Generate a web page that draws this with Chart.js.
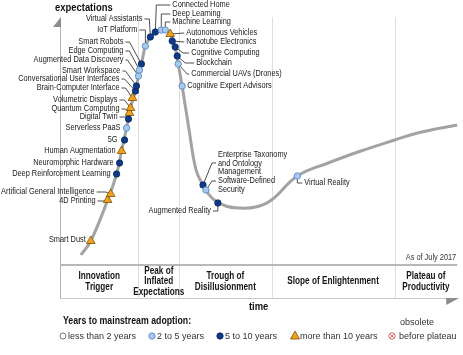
<!DOCTYPE html>
<html>
<head>
<meta charset="utf-8">
<script src="https://cdn.jsdelivr.net/npm/chart.js@4.4.1/dist/chart.umd.min.js"></script>
<style>
  html, body { margin: 0; padding: 0; background: #fff; }
  canvas { display: block; }
</style>
</head>
<body>
<canvas id="chart" width="463" height="355"></canvas>
<script>
const FONT = '"Liberation Sans", Arial, sans-serif';
const SQUEEZE = 0.82; // the original uses a narrow Arial

// hype curve (time 0-100, expectations 0-100)
const curveTime   = [5.25, 7.75, 12, 14.25, 15.5, 16.75, 17.75, 19, 19.75, 20.5, 21.5, 22.75, 24, 25.5, 26.5, 27.75, 29, 29.75, 30.75, 32.5, 34.25, 36, 38.25, 41.75, 45, 49.25, 53.25, 59.75, 67.5, 75.75, 84.25, 90, 100];
const curveExpect = [4, 9.6, 26, 36.4, 45.6, 54.8, 62.8, 69.6, 75.6, 80.4, 87.6, 91.2, 93.2, 94, 94, 92.4, 87.2, 80.4, 71.6, 54, 38, 32, 26.8, 23.6, 22.8, 23.2, 26, 35.6, 40.8, 45.6, 50, 52.8, 56];

// phases along the time axis
const phaseBounds = [0, 19.75, 30, 53.25, 84.25, 100];
const phaseNames = [
  ['Innovation', 'Trigger'],
  ['Peak of', 'Inflated', 'Expectations'],
  ['Trough of', 'Disillusionment'],
  ['Slope of Enlightenment'],
  ['Plateau of', 'Productivity']
];

// technologies
const techNames = [
  'Smart Dust', '4D Printing', 'Artificial General Intelligence', 'Deep Reinforcement Learning',
  'Neuromorphic Hardware', 'Human Augmentation', '5G', 'Serverless PaaS', 'Digital Twin',
  'Quantum Computing', 'Volumetric Displays', 'Brain-Computer Interface',
  'Conversational User Interfaces', 'Smart Workspace', 'Augmented Data Discovery',
  'Edge Computing', 'Smart Robots', 'IoT Platform', 'Virtual Assistants', 'Connected Home',
  'Deep Learning', 'Machine Learning', 'Autonomous Vehicles', 'Nanotube Electronics',
  'Cognitive Computing', 'Blockchain', 'Commercial UAVs (Drones)', 'Cognitive Expert Advisors',
  'Enterprise Taxonomy\nand Ontology\nManagement', 'Software-Defined\nSecurity',
  'Augmented Reality', 'Virtual Reality'
];
const techTime = [7.75, 12, 12.75, 14.25, 15, 15.5, 16.25, 16.75, 17.25, 17.5, 17.75, 18.25, 19, 19.25, 19.75, 20, 20.5, 21.5, 22.75, 24, 25.5, 26.5, 27.75, 28.25, 29, 29.5, 29.75, 30.75, 36, 36.75, 39.75, 59.75];
const techExpect = [9.6, 26, 28.4, 36.4, 40.8, 45.6, 50, 54.8, 58.4, 60.8, 62.8, 66.8, 69.6, 71.6, 75.6, 78, 80.4, 87.6, 91.2, 93.2, 94, 94, 92.4, 89.6, 87.2, 83.6, 80.4, 71.6, 32, 30, 24.8, 35.6];
const techYears = ['10+', '10+', '10+', '5-10', '5-10', '10+', '5-10', '2-5', '5-10', '10+', '10+', '10+',
  '5-10', '5-10', '2-5', '2-5', '5-10', '2-5', '5-10', '5-10', '2-5', '2-5', '10+', '5-10',
  '5-10', '5-10', '2-5', '2-5', '5-10', '2-5', '5-10', '2-5'];

const yearClasses = ['2-5', '5-10', '10+'];
const legendLabels = ['less than 2 years', '2 to 5 years', '5 to 10 years', 'more than 10 years'];

// marker look per class
const markerStyle = {
  '2-5':  { pointStyle: 'circle',   radius: 3.2, fill: '#a8c9ec', border: '#4f83c4' },
  '5-10': { pointStyle: 'circle',   radius: 3.2, fill: '#0e3a86', border: '#082a63' },
  '10+':  { pointStyle: 'triangle', radius: 5,   fill: '#f2a11e', border: '#7a5200' }
};

// label placement, pixels from the marker: [dx, dy, connector path]; dx < 0 -> text to the left
const labelLayout = [
  [-5, -1, []],
  [-12, 1, [[-3, 1], [-10, 1]]],
  [-16, -2, [[-5, -2], [-14, -2]]],
  [-6, 0, []],
  [-6, 0, []],
  [-6, 0, []],
  [-7, 0, []],
  [-6, 0, []],
  [-11, -2, [[-3, -2], [-9, -2]]],
  [-10, -4, [[-4, -4], [-8, -4]]],
  [-13, -8, [[-6, -8], [-11, -8]]],
  [-13, -10, [[-7, -10], [-11, -10]]],
  [-16, -12, [[-11, -12], [-14, -12]]],
  [-16, -15, [[-11, -15], [-14, -15]]],
  [-15, -16, [[-11, -16], [-13, -16]]],
  [-16, -19, [[-10, -19], [-14, -19]]],
  [-18, -22, [[-12, -22], [-16, -22]]],
  [-8, -16, [[0, -16], [-6, -16]]],
  [-8, -18, [[-1, -18], [-6, -18]]],
  [17, -27, [[1, -27], [15, -27]]],
  [11, -16, [[0, -16], [9, -16]]],
  [7, -8, [[0, -8], [5, -8]]],
  [16, -1, [[14, -1]]],
  [14, 1, [[12, 1]]],
  [16, 6, [[8, 6], [14, 6]]],
  [19, 7, [[8, 7], [17, 7]]],
  [13, 10, [[9, 10], [11, 10]]],
  [5, 0, []],
  [15, -30, [[9, -22], [13, -22]]],
  [12, -9, [[6, -9], [10, -9]]],
  [-7, 8, [[0, 8], [-5, 8]]],
  [7, 7, [[0, 7], [5, 7]]]
];

function pointsFor(cls) {
  const pts = [];
  techNames.forEach((n, i) => {
    if (techYears[i] === cls) pts.push({ x: techTime[i], y: techExpect[i] });
  });
  return pts;
}

const datasets = [{
  label: 'curve',
  data: curveTime.map((t, i) => ({ x: t, y: curveExpect[i] })),
  showLine: true,
  tension: 0.4,
  borderColor: '#a3a3a3',
  borderWidth: 3,
  pointRadius: 0,
  order: 10,
  clip: false
}];
yearClasses.forEach(cls => {
  const s = markerStyle[cls];
  datasets.push({
    label: cls,
    data: pointsFor(cls),
    pointStyle: s.pointStyle,
    pointRadius: s.radius,
    backgroundColor: s.fill,
    borderColor: s.border,
    borderWidth: 0.8,
    order: 1,
    clip: false
  });
});

function markerPx(chart, i) {
  return [chart.scales.x.getPixelForValue(techTime[i]), chart.scales.y.getPixelForValue(techExpect[i])];
}

// narrow text: squeeze Arial horizontally
function narrowText(ctx, text, x, y, align, font) {
  ctx.save();
  ctx.font = font;
  ctx.textAlign = align;
  ctx.textBaseline = 'middle';
  ctx.translate(x, y);
  ctx.scale(SQUEEZE, 1);
  ctx.fillText(text, 0, 0);
  ctx.restore();
}

function drawLegendMarker(ctx, kind, x, y) {
  ctx.save();
  ctx.lineWidth = 0.8;
  if (kind === 'open') {
    ctx.fillStyle = '#fff'; ctx.strokeStyle = '#555';
    ctx.beginPath(); ctx.arc(x, y, 3, 0, Math.PI * 2); ctx.fill(); ctx.stroke();
  } else if (kind === 'obsolete') {
    ctx.strokeStyle = '#e0606e'; ctx.lineWidth = 1;
    ctx.beginPath(); ctx.arc(x, y, 3.2, 0, Math.PI * 2); ctx.stroke();
    ctx.beginPath();
    ctx.moveTo(x - 1.6, y - 1.6); ctx.lineTo(x + 1.6, y + 1.6);
    ctx.moveTo(x + 1.6, y - 1.6); ctx.lineTo(x - 1.6, y + 1.6);
    ctx.stroke();
  } else {
    const s = markerStyle[kind];
    ctx.fillStyle = s.fill; ctx.strokeStyle = s.border;
    ctx.beginPath();
    if (s.pointStyle === 'triangle') {
      ctx.moveTo(x, y - 5); ctx.lineTo(x + 4.5, y + 3); ctx.lineTo(x - 4.5, y + 3); ctx.closePath();
    } else {
      ctx.arc(x, y, 3.2, 0, Math.PI * 2);
    }
    ctx.fill(); ctx.stroke();
  }
  ctx.restore();
}

const hypeDecor = {
  id: 'hypeDecor',
  beforeDatasetsDraw(chart) {
    const { ctx, chartArea: a, scales: { x } } = chart;
    const boxBottom = a.bottom + 33;
    ctx.save();
    // phase dividers
    ctx.strokeStyle = '#dedede';
    ctx.lineWidth = 1;
    phaseBounds.slice(1, -1).forEach(b => {
      const px = Math.round(x.getPixelForValue(b)) + 0.5;
      ctx.beginPath(); ctx.moveTo(px, a.top + 2); ctx.lineTo(px, boxBottom); ctx.stroke();
    });
    // vertical axis + arrow
    ctx.strokeStyle = '#b4b4b4';
    ctx.beginPath(); ctx.moveTo(a.left + 0.5, a.top + 12); ctx.lineTo(a.left + 0.5, boxBottom); ctx.stroke();
    ctx.fillStyle = '#8c8c8c';
    ctx.beginPath(); ctx.moveTo(a.left + 1, a.top + 2); ctx.lineTo(a.left + 1, a.top + 12); ctx.lineTo(a.left - 7, a.top + 12); ctx.closePath(); ctx.fill();
    // baseline of the plot
    ctx.strokeStyle = '#b8b8b8'; ctx.lineWidth = 2;
    ctx.beginPath(); ctx.moveTo(a.left, a.bottom); ctx.lineTo(a.right, a.bottom); ctx.stroke();
    // time axis under the phase box + arrow
    ctx.strokeStyle = '#c8c8c8'; ctx.lineWidth = 1;
    ctx.beginPath(); ctx.moveTo(a.left, boxBottom + 0.5); ctx.lineTo(a.right - 10, boxBottom + 0.5); ctx.stroke();
    ctx.fillStyle = '#8c8c8c';
    ctx.beginPath(); ctx.moveTo(a.right - 11, boxBottom); ctx.lineTo(a.right + 2, boxBottom); ctx.lineTo(a.right - 11, boxBottom + 7); ctx.closePath(); ctx.fill();
    // phase names
    ctx.fillStyle = '#151515';
    phaseNames.forEach((lines, i) => {
      const cx = x.getPixelForValue((phaseBounds[i] + phaseBounds[i + 1]) / 2);
      const lh = 10.5;
      const y0 = a.bottom + 16.5 - (lines.length - 1) * lh / 2;
      lines.forEach((l, k) => narrowText(ctx, l, cx, y0 + k * lh, 'center', 'bold 10px ' + FONT));
    });
    ctx.restore();
  },
  afterDatasetDraw(chart, args) {
    if (args.index !== 0) return;
    // connectors sit above the curve, below the markers
    const ctx = chart.ctx;
    ctx.save();
    ctx.strokeStyle = '#3a3a3a';
    ctx.lineWidth = 0.9;
    labelLayout.forEach((lay, i) => {
      const path = lay[2];
      if (!path.length) return;
      const [mx, my] = markerPx(chart, i);
      ctx.beginPath();
      ctx.moveTo(mx, my);
      path.forEach(p => ctx.lineTo(mx + p[0], my + p[1]));
      ctx.stroke();
    });
    ctx.restore();
  },
  afterDatasetsDraw(chart) {
    const ctx = chart.ctx;
    ctx.save();
    ctx.fillStyle = '#1a1a1a';
    techNames.forEach((name, i) => {
      const [mx, my] = markerPx(chart, i);
      const [dx, dy] = labelLayout[i];
      name.split('\n').forEach((l, k) =>
        narrowText(ctx, l, mx + dx, my + dy + k * 8.5, dx < 0 ? 'right' : 'left', '9px ' + FONT));
    });
    ctx.restore();
  },
  afterDraw(chart) {
    const { ctx, chartArea: a } = chart;
    ctx.save();
    ctx.fillStyle = '#111';
    narrowText(ctx, 'expectations', a.left - 5, 8, 'left', 'bold 11.5px ' + FONT);
    narrowText(ctx, 'time', (a.left + a.right) / 2, a.bottom + 42, 'center', 'bold 11.5px ' + FONT);
    ctx.fillStyle = '#333';
    narrowText(ctx, 'As of July 2017', a.right - 1, a.bottom - 7, 'right', '9px ' + FONT);
    // legend
    ctx.fillStyle = '#111';
    narrowText(ctx, 'Years to mainstream adoption:', 63, 321, 'left', 'bold 10.7px ' + FONT);
    ctx.fillStyle = '#333';
    ctx.font = '9px ' + FONT;
    ctx.textAlign = 'left';
    ctx.textBaseline = 'middle';
    const kinds = ['open', '2-5', '5-10', '10+'];
    const xs = [63, 152, 220, 295];
    kinds.forEach((k, i) => {
      drawLegendMarker(ctx, k, xs[i], 336);
      ctx.fillText(legendLabels[i], xs[i] + 5, 336.5);
    });
    drawLegendMarker(ctx, 'obsolete', 392, 336);
    ctx.fillText('before plateau', 399, 336.5);
    ctx.fillText('obsolete', 400, 323);
    ctx.restore();
  }
};

new Chart(document.getElementById('chart'), {
  type: 'scatter',
  data: { datasets },
  options: {
    responsive: false,
    animation: false,
    devicePixelRatio: 1,
    layout: { padding: { left: 60, right: 3, top: 15, bottom: 90 } },
    scales: {
      x: { type: 'linear', min: 0, max: 100, display: false },
      y: { type: 'linear', min: 0, max: 100, display: false }
    },
    plugins: {
      legend: { display: false },
      tooltip: { enabled: false }
    }
  },
  plugins: [hypeDecor]
});
</script>
</body>
</html>
